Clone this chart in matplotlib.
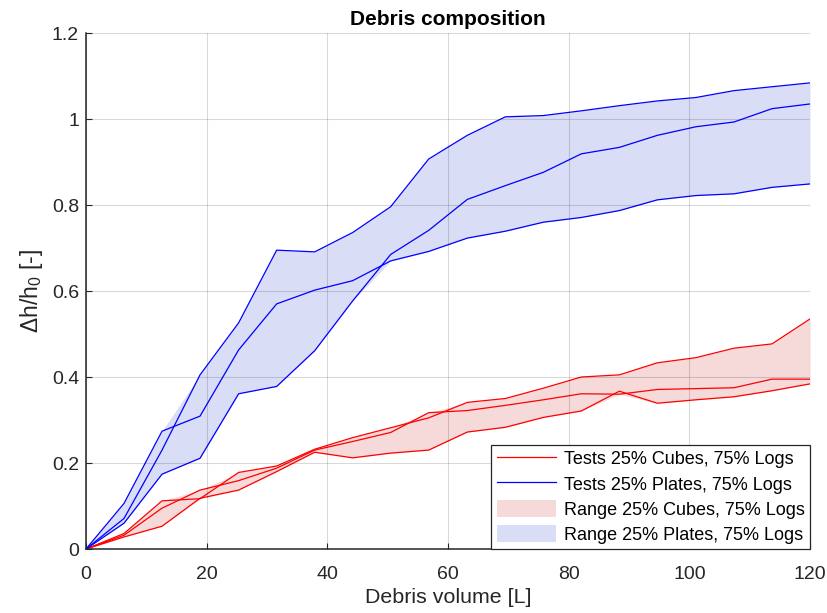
import numpy as np
import matplotlib
matplotlib.use("Agg")
import matplotlib.pyplot as plt
from matplotlib.lines import Line2D
from matplotlib.patches import Patch

plt.rcParams['font.family'] = ['Liberation Sans', 'DejaVu Sans']
plt.rcParams['mathtext.fontset'] = 'custom'
plt.rcParams['mathtext.rm'] = 'Liberation Sans'
plt.rcParams['mathtext.it'] = 'Liberation Sans:italic'

# Debris volume [L]
volume = [0.0, 6.3, 12.6, 18.9, 25.3, 31.6, 37.9, 44.2, 50.5, 56.8,
          63.2, 69.5, 75.8, 82.1, 88.4, 94.7, 101.1, 107.4, 113.7, 120.0]

# 25% Cubes, 75% Logs tests
cubes_1 = [0, 0.036, 0.112, 0.117, 0.178, 0.193, 0.232, 0.259, 0.282, 0.305,
           0.341, 0.350, 0.374, 0.400, 0.405, 0.433, 0.445, 0.467, 0.477, 0.535]
cubes_2 = [0, 0.032, 0.095, 0.137, 0.159, 0.188, 0.230, 0.250, 0.271, 0.317,
           0.322, 0.334, 0.347, 0.361, 0.360, 0.371, 0.373, 0.375, 0.395, 0.395]
cubes_3 = [0, 0.028, 0.053, 0.118, 0.137, 0.180, 0.225, 0.212, 0.223, 0.230,
           0.272, 0.283, 0.306, 0.321, 0.367, 0.339, 0.347, 0.354, 0.368, 0.384]

# 25% Plates, 75% Logs tests
plates_1 = [0, 0.071, 0.230, 0.405, 0.526, 0.695, 0.691, 0.736, 0.796, 0.907,
            0.962, 1.005, 1.008, 1.019, 1.031, 1.042, 1.050, 1.066, 1.075, 1.084]
plates_2 = [0, 0.060, 0.174, 0.211, 0.361, 0.378, 0.461, 0.577, 0.685, 0.741,
            0.813, 0.845, 0.876, 0.919, 0.934, 0.962, 0.982, 0.993, 1.024, 1.035]
plates_3 = [0, 0.106, 0.274, 0.309, 0.463, 0.570, 0.602, 0.624, 0.670, 0.692,
            0.723, 0.739, 0.760, 0.771, 0.787, 0.812, 0.822, 0.826, 0.841, 0.849]

labels = ["Tests 25% Cubes, 75% Logs", "Tests 25% Plates, 75% Logs",
          "Range 25% Cubes, 75% Logs", "Range 25% Plates, 75% Logs"]
xticks = [0, 20, 40, 60, 80, 100, 120]
yticks = [0, 0.2, 0.4, 0.6, 0.8, 1.0, 1.2]
yticklabels = ["0", "0.2", "0.4", "0.6", "0.8", "1", "1.2"]

red = "#FF0000"
blue = "#0000FF"
pink_fill = "#F6D9D9"
blue_fill = "#D9DDF6"

fig = plt.figure(figsize=(8.28, 6.13), dpi=100)
ax = fig.add_axes([86/828, (613-549)/613, (810-86)/828, (549-33)/613])

x = np.array(volume)
cubes = np.array([cubes_1, cubes_2, cubes_3])
plates = np.array([plates_1, plates_2, plates_3])

ax.fill_between(x, cubes.min(axis=0), cubes.max(axis=0), color=pink_fill, lw=0, zorder=1)
ax.fill_between(x, plates.min(axis=0), plates.max(axis=0), color=blue_fill, lw=0, zorder=1)
for s in cubes:
    ax.plot(x, s, color=red, lw=0.9, zorder=2)
for s in plates:
    ax.plot(x, s, color=blue, lw=0.9, zorder=2)

ax.set_xlim(0, 120)
ax.set_ylim(0, 1.2)
ax.set_xticks(xticks)
ax.set_xticklabels([str(t) for t in xticks])
ax.set_yticks(yticks)
ax.set_yticklabels(yticklabels)

ax.spines['top'].set_visible(False)
ax.spines['right'].set_visible(False)
for sp in ['left', 'bottom']:
    ax.spines[sp].set_color('#262626')
    ax.spines[sp].set_linewidth(1.1)
ax.tick_params(direction='in', length=4, width=0.8, color='#262626',
               labelsize=14, labelcolor='#262626')
ax.tick_params(axis='x', pad=12)
ax.tick_params(axis='y', pad=5)

ax.set_axisbelow(False)
ax.grid(True, color='k', alpha=0.15, lw=0.8)

ax.set_title("Debris composition", fontsize=15, fontweight='bold', pad=6)
ax.set_xlabel("Debris volume [L]", fontsize=15.4, color='#262626', labelpad=4)
ax.set_ylabel(r"$\Delta$h/h$_0$ [-]", fontsize=16.5, color='#262626', labelpad=5)

handles = [Line2D([], [], color=red, lw=0.9),
           Line2D([], [], color=blue, lw=0.9),
           Patch(facecolor=pink_fill, edgecolor='none'),
           Patch(facecolor=blue_fill, edgecolor='none')]
leg = ax.legend(handles, labels, loc='lower right', fontsize=13, frameon=True,
                fancybox=False, edgecolor='#262626', framealpha=1,
                borderaxespad=0.0, handlelength=3.3, handleheight=1.05,
                labelspacing=0.36, handletextpad=0.4, borderpad=0.3)
leg.get_frame().set_linewidth(0.9)

fig.savefig("out.png", dpi=100)
